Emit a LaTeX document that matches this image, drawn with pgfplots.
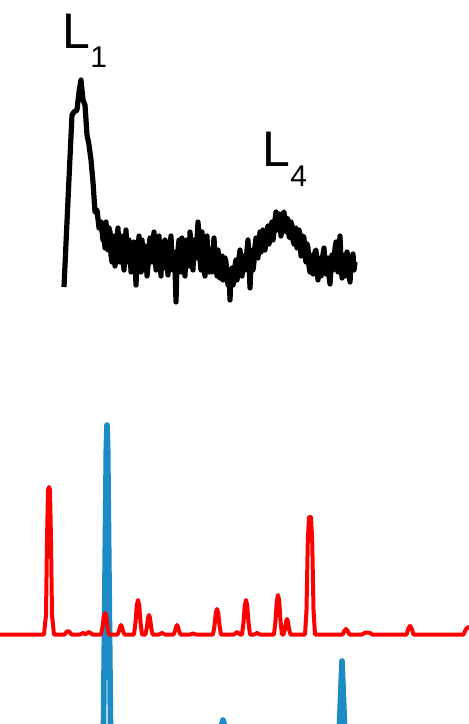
\documentclass[border=0pt]{standalone}
\usepackage{pgfplots}
\pgfplotsset{compat=1.18}
\usepackage{fontspec}
\setmainfont{Liberation Sans}
\definecolor{specblue}{RGB}{28,140,198}
\definecolor{specred}{RGB}{255,0,0}
\begin{document}
\begin{tikzpicture}
\useasboundingbox (0,0) rectangle (234.5pt,362pt);
\begin{axis}[
  at={(0,0)}, anchor=south west,
  scale only axis, width=234.5pt, height=362pt,
  xmin=0, xmax=469, ymin=0, ymax=724, y dir=reverse,
  hide axis, clip=true,
]
% blue spectrum (baseline below the visible area)
\addplot[specblue, line width=2.8pt, line join=round] coordinates {
(-5,780) (96,780) (103.5,724) (106.3,450) (107,425) (107.7,450) (110.5,724) (118,780)
(216,780) (221.8,724) (223,720) (224.2,724) (230,780)
(332,780) (339.5,724) (342,661) (344.5,724) (352,780) (475,780)
};
% red spectrum
\addplot[specred, line width=2pt, line join=round] coordinates {
(-5,634.5) (44,634.5) (46,615) (47,540) (48,490) (49,487) (50,490) (51,540) (52,615) (54,634.5)
(64.5,634.5) (66.5,632) (68,631) (69.5,632) (71.5,634.5)
(80,634.5) (82,633.5) (83,633) (84.5,633.8) (86,634) (88,632.5) (89,632) (90.5,633) (92.5,634.5)
(101,634.5) (102.5,627) (103.8,616) (105,613) (106.2,616) (107.5,627) (109,634.5)
(117.5,634.5) (119,631) (120.2,626.5) (121,625) (121.8,626.5) (123,631) (124.5,634.5)
(134,634.5) (135.5,622.4) (136.8,605.2) (138,600) (139.2,605.2) (140.5,622.4) (142,634.5)
(145.5,634.5) (146.8,627.7) (148,618) (149,615) (150,618) (151.2,627.7) (152.5,634.5)
(159,634.5) (161,633.5) (162,633) (163,633.5) (165,634.5)
(173.5,634.5) (175,631) (176.2,626.5) (177,625) (177.8,626.5) (179,631) (180.5,634.5)
(190,634.5) (193,633.5) (196,634.5)
(213,634.5) (214.5,625.6) (215.8,612.8) (217,609) (218.2,612.8) (219.5,625.6) (221,634.5)
(234,634.5) (236,632.8) (237,632) (238,632.8) (240,634.5)
(242,634.5) (243.5,622.4) (244.8,605.2) (246,600) (247.2,605.2) (248.5,622.4) (250,634.5)
(254,634.5) (256,633.5) (257,633) (258,633.5) (260,634.5)
(274,634.5) (275.5,620.7) (276.8,600.9) (278,595) (279.2,600.9) (280.5,620.7) (282,634.5)
(283.5,634.5) (285,629) (286.2,621.3) (287,619) (287.8,621.3) (289,629) (290.5,634.5)
(305,634.5) (306.5,610) (307.8,540) (309,517) (311,517) (312.2,540) (313.5,610) (315,634.5)
(342.5,634.5) (344.5,630.7) (346,629) (347.5,630.7) (349.5,634.5)
(362,634.5) (364.5,633) (366,632.5) (368,632.5) (370,633) (372,634.5)
(406.5,634.5) (408.2,629) (409.2,626.8) (410,626) (410.8,626.8) (411.8,629) (413.5,634.5)
(463.5,634.5) (465.5,630) (467,628) (469,627) (471,628) (473,632) (475,634.5)
};
% black noisy curve
\addplot[black, line width=2.6pt, line join=round] coordinates {
(64,287) (68,200) (72,115) (74,112) (77,110) (79,92) (81,80) (83,100) (85,105) (87,135)
(89,145) (91,160) (93,182) (95,212) (97,210) (99,228) (101,222) (103,240)
(104,235) (105,248) (106,222) (107,238) (108,250) (109,228) (110,232) (111,255) (112,262) (113,236)
(114,240) (115,266) (116,258) (117,240) (118,228) (119,252) (120,262) (121,236) (122,245) (123,258)
(124,270) (125,248) (126,230) (127,255) (128,262) (129,240) (130,248) (131,272) (132,268) (133,250)
(134,242) (135,260) (136,285) (137,262) (138,250) (139,236) (140,262) (141,272) (142,240) (143,255)
(144,270) (145,246) (146,252) (147,276) (148,266) (149,248) (150,238) (151,258) (152,262) (153,244)
(154,232) (155,250) (156,270) (157,262) (158,248) (159,236) (160,262) (161,276) (162,242) (163,255)
(164,268) (165,240) (166,250) (167,262) (168,275) (169,258) (170,246) (171,236) (172,262) (173,270)
(174,252) (175,268) (176,302) (177,262) (178,250) (179,240) (180,262) (181,272) (182,238) (183,250)
(184,266) (185,276) (186,248) (187,240) (188,255) (189,266) (190,232) (191,245) (192,262) (193,270)
(194,240) (195,250) (196,258) (197,240) (198,222) (199,238) (200,260) (201,270) (202,232) (203,250)
(204,268) (205,276) (206,246) (207,236) (208,262) (209,272) (210,250) (211,262) (212,272) (213,250)
(214,238) (215,256) (216,266) (217,276) (218,250) (219,262) (220,278) (221,266) (222,256) (223,280)
(224,270) (225,258) (226,262) (227,276) (228,285) (229,270) (230,300) (231,276) (232,268) (233,285)
(234,280) (235,266) (236,260) (237,280) (238,272) (239,258) (240,250) (241,264) (242,276) (243,262)
(244,256) (245,270) (246,262) (247,250) (248,240) (249,262) (250,288) (251,266) (252,250) (253,270)
(254,262) (255,246) (256,238) (257,250) (258,258) (259,242) (260,232) (261,252) (262,248) (263,230)
(264,236) (265,250) (266,240) (267,232) (268,226) (269,244) (270,238) (271,226) (272,222) (273,240)
(274,232) (275,220) (276,212) (277,226) (278,230) (279,214) (280,220) (281,236) (282,226) (283,214)
(284,212) (285,230) (286,232) (287,218) (288,220) (289,236) (290,238) (291,222) (292,226) (293,240)
(294,244) (295,230) (296,228) (297,248) (298,242) (299,230) (300,236) (301,256) (302,250) (303,236)
(304,238) (305,256) (306,262) (307,244) (308,248) (309,266) (310,272) (311,256) (312,255) (313,274)
(314,266) (315,252) (316,250) (317,270) (318,280) (319,262) (320,258) (321,276) (322,270) (323,254)
(324,248) (325,266) (326,274) (327,262) (328,258) (329,276) (330,284) (331,268) (332,255) (333,270)
(334,262) (335,248) (336,242) (337,262) (338,272) (339,250) (340,236) (341,262) (342,278) (343,262)
(344,255) (345,276) (346,270) (347,252) (348,258) (349,274) (350,282) (351,266) (352,262) (353,254)
(354,270) (355,262)
};
\node[anchor=base west, inner sep=0pt, font=\fontsize{25}{30}\selectfont] at (axis cs:62.5,48) {L};
\node[anchor=base west, inner sep=0pt, font=\fontsize{15}{18}\selectfont] at (axis cs:90,67) {1};
\node[anchor=base west, inner sep=0pt, font=\fontsize{25}{30}\selectfont] at (axis cs:262.5,166) {L};
\node[anchor=base west, inner sep=0pt, font=\fontsize{15}{18}\selectfont] at (axis cs:290,186) {4};
\end{axis}
\end{tikzpicture}
\end{document}
